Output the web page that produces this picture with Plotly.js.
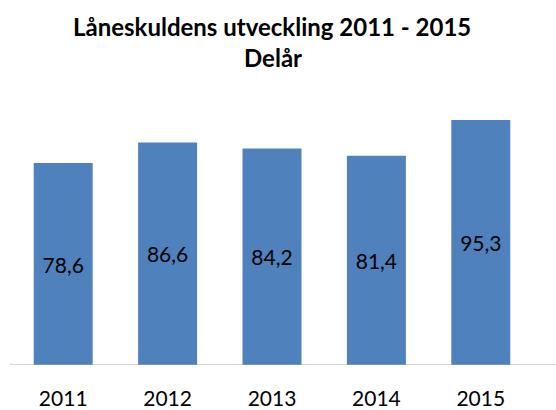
<!DOCTYPE html>
<html>
<head>
<meta charset="utf-8">
<script src="https://cdn.plot.ly/plotly-3.0.1.min.js"></script>
<style>html,body{margin:0;padding:0;background:#fff;}#chart{width:556px;height:410px;}</style>
</head>
<body>
<div id="chart"></div>
<script>
const years = ['2011', '2012', '2013', '2014', '2015'];
const debt = [78.6, 86.6, 84.2, 81.4, 95.3];
const titleLine1 = 'Låneskuldens utveckling 2011 - 2015';
const titleLine2 = 'Delår';

const FONT = 'Lato, "Open Sans", sans-serif';

const trace = {
  type: 'bar',
  x: years,
  y: debt,
  marker: {color: '#4F81BD'},
  texttemplate: '%{y:.1f}',
  textposition: 'inside',
  insidetextanchor: 'middle',
  constraintext: 'none',
  textfont: {family: FONT, size: 21, color: '#000000'},
  hoverinfo: 'none'
};

const layout = {
  width: 556,
  height: 410,
  separators: ', ',
  margin: {l: 10.7, r: 23, t: 107.6, b: 45},
  paper_bgcolor: '#ffffff',
  plot_bgcolor: '#ffffff',
  showlegend: false,
  bargap: 0.435,
  xaxis: {
    type: 'category',
    showline: false,
    showgrid: false,
    zeroline: false,
    ticks: '',
    tickfont: {family: FONT, size: 21, color: '#000000'},
    ticklabelstandoff: 19
  },
  yaxis: {
    range: [0, 100],
    visible: false,
    showgrid: false,
    zeroline: false
  },
  annotations: [
    {
      text: '<b>' + titleLine1 + '</b>',
      xref: 'paper', yref: 'paper',
      x: (271.5 - 10.7) / 522.3, xanchor: 'center',
      y: (365 - 26) / 257.4, yanchor: 'middle',
      showarrow: false,
      font: {family: FONT, size: 24, color: '#000000'}
    },
    {
      text: '<b>' + titleLine2 + '</b>',
      xref: 'paper', yref: 'paper',
      x: (273 - 10.7) / 522.3, xanchor: 'center',
      y: (365 - 57) / 257.4, yanchor: 'middle',
      showarrow: false,
      font: {family: FONT, size: 24, color: '#000000'}
    }
  ],
  shapes: [{
    type: 'line', xref: 'paper', yref: 'y',
    x0: -0.002, x1: 1.05, y0: 0, y1: 0,
    line: {color: '#a6a6a6', width: 1.2}
  }]
};

Plotly.newPlot('chart', [trace], layout, {displayModeBar: false, staticPlot: true});
</script>
</body>
</html>
